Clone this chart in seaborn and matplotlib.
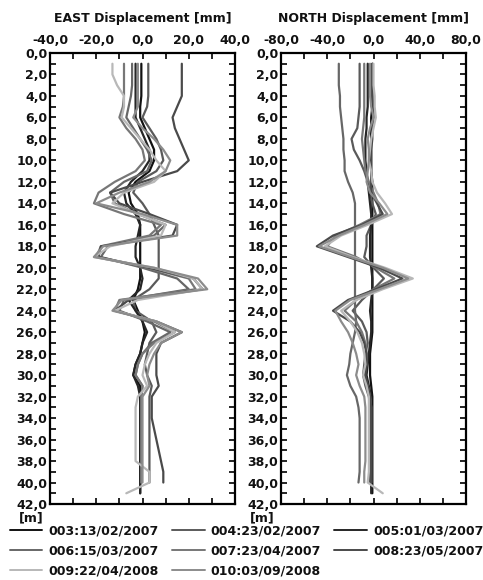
import numpy as np
import pandas as pd
import matplotlib
matplotlib.use("Agg")
import matplotlib.pyplot as plt
from matplotlib.ticker import MultipleLocator, FuncFormatter
import seaborn as sns

nan = np.nan
depth = list(range(1, 42))

series = ["003:13/02/2007", "004:23/02/2007", "005:01/03/2007", "006:15/03/2007",
          "007:23/04/2007", "008:23/05/2007", "009:22/04/2008", "010:03/09/2008"]
colors = ["#111111", "#5a5a5a", "#262626", "#676767", "#777777", "#4a4a4a", "#b8b8b8", "#8c8c8c"]

east_003 = [-0.5, -0.5, -0.5, -0.5, -1, -1, 1, 3, 5, 5,
            3, -3, -6, -5, -2, -1, -1, -1, -1, -1,
            -1, -2, -4, -2, 0, 1, 0, -1, -3, -4,
            -1, -1, -1, -1, -1, -1, -1, -1, -1, -1, -1]
east_004 = [2.5, 2.5, 2.5, 2.5, 2, 0, 3, 6, 8, 9,
            6, -2, -4, 0, 3, 5, 7, 7, 7, 7,
            7, 3, -4, -3, 4, 6, 3, 2, 1, 2,
            4, 3, 3, 3, 3, 3, 3, 3, 3, 3, nan]
east_005 = [-3, -3, -3, -3, -3, -3, -1, 1, 3, 3,
            0, -5, -8, -7, -3, -1, -2, -3, -3, -1,
            0, -1, -6, -3, 0, 2, 0, -1, -3, -4,
            -2, -1, -1, -1, -1, -1, -1, -1, -1, -1, -1]
east_006 = [-4.5, -4.5, -4.5, -5, -6, -7, -4, -1, 2, 4,
            2, -8, -14, -12, -2, 10, 5, -15, -18, 0,
            15, 20, -8, -10, 2, 12, 4, 0, -2, -3,
            0, -0.5, -0.5, -0.5, -0.5, -0.5, -0.5, -0.5, -0.5, -0.5, nan]
east_007 = [-8, -8, -8, -8, -8.5, -10, -7, -3, 0, 1,
            -3, -12, -19, -21, -8, 8, 3, -18, -20, 2,
            20, 23, -10, -12, 5, 14, 5, 0, -2, -3,
            0, -0.5, -0.5, -0.5, -0.5, -0.5, -0.5, -0.5, -0.5, -0.5, nan]
east_008 = [17, 17, 17, 17, 15, 13, 14, 16, 18, 20,
            15, 0, -14, -10, 3, 15, 13, -18, -19, 3,
            22, 26, -6, -12, 6, 17, 8, 6, 6, 6,
            7, 4, 4, 4, 5, 6, 7, 8, 9, 9, nan]
east_009 = [-13, -13, -11, -8, -8, -9, -5, -1, 3, 6,
            10, 5, -8, -13, -2, 10, 8, -14, -21, 5,
            22, 26, -2, -12, 6, 14, 6, 3, 1, 0,
            2, -2, -3, -3, -3, -3, -3, -3, 3, 3, -7]
east_010 = [-2, -2, -2, -2, -2, -4, 0, 5, 9, 12,
            10, 3, -10, -20, 0, 15, 15, -17, -21, 5,
            24, 28, -9, -13, 6, 17, 8, 5, 3, 2,
            3, 0, 0, 0, 0, 0, 0, 0, 0, 0, nan]

north_003 = [-1, -1, -1, -1, -1, -2, -2, -2, -2, -2,
             -2, -1, -1, -1, -1, -1, -1, -1, -1, -1,
             -1, -1, -1, -1, -1, -1, -2, -3, -3, -3,
             -2, -1, -1, -1, -1, -1, -1, -1, -1, -1, -1]
north_004 = [-12, -12, -12, -12, -12, -13, -14, -19, -17, -12,
             -8, -5, -3, -1, 2, -2, -6, -6, -8, 0,
             9, 0, -10, -18, -10, -6, -5, -7, -8, -9,
             -7, -4, -3, -3, -3, -3, -3, -3, -3, -3, nan]
north_005 = [-5, -5, -5, -5, -5, -6, -6, -7, -7, -7,
             -6, -5, -4, -3, -2, -2, -3, -3, -3, -2,
             -1, -1, -2, -3, -2, -2, -3, -4, -5, -6,
             -4, -2, -2, -2, -2, -2, -2, -2, -2, -2, -2]
north_006 = [-30, -30, -30, -29, -29, -28, -27, -26, -26, -25,
             -25, -22, -18, -16, -16, -16, -16, -16, -16, -16,
             -16, -16, -16, -16, -15, -16, -18, -20, -21, -23,
             -20, -15, -13, -12, -12, -12, -12, -12, -12, -13, nan]
north_007 = [-8, -8, -8, -8, -8, -8, -9, -10, -9, -8,
             -7, -4, 0, 4, 6, -12, -33, -40, -15, 2,
             18, 0, -15, -25, -15, -10, -7, -6, -6, -8,
             -5, -3, -2, -2, -2, -2, -2, -2, -2, -2, nan]
north_008 = [-1, -1, -1, -1, 0, 0, -1, -1, -2, -2,
             -2, -2, -2, 3, 8, -10, -35, -49, -22, 5,
             25, 2, -22, -35, -20, -12, -8, -6, -6, -7,
             -5, -3, -2, -2, -2, -2, -2, -2, -2, -2, nan]
north_009 = [0, 0, 0, 1, 1, 2, 0, -2, -3, -4,
             -2, -1, 3, 10, 16, -5, -28, -42, -18, 10,
             34, 8, -15, -28, -20, -14, -10, -8, -7, -9,
             -6, -4, -4, -4, -4, -4, -4, -4, -4, -5, 8]
north_010 = [-3, -3, -3, -3, -2, 0, -3, -5, -4, -4,
             -5, -6, -3, 5, 12, -8, -30, -47, -20, 8,
             30, 5, -20, -33, -28, -22, -18, -15, -13, -15,
             -12, -8, -7, -7, -7, -7, -7, -7, -8, -8, nan]

east = [east_003, east_004, east_005, east_006, east_007, east_008, east_009, east_010]
north = [north_003, north_004, north_005, north_006, north_007, north_008, north_009, north_010]

rows = []
for name, ev, nv in zip(series, east, north):
    for d, e, n in zip(depth, ev, nv):
        rows.append({"series": name, "depth": d, "east": e, "north": n})
df = pd.DataFrame(rows)

sns.set_theme(style="white")
plt.rcParams["font.family"] = ["DejaVu Sans"]
plt.rcParams["font.weight"] = "bold"

fig = plt.figure(figsize=(4.83, 5.80), dpi=100)
axL = fig.add_axes([50/483, 1-504/580, 185/483, 451/580])
axR = fig.add_axes([281/483, 1-504/580, 185/483, 451/580])

palette = dict(zip(series, colors))
fmt = FuncFormatter(lambda v, p: f"{v:.1f}".replace(".", ","))

for ax, col, lim, major, minor, title in [
        (axL, "east", (-40, 40), 20, 10, "EAST Displacement [mm]"),
        (axR, "north", (-80, 80), 40, 20, "NORTH Displacement [mm]")]:
    sub = df.dropna(subset=[col])
    sns.lineplot(data=sub, x=col, y="depth", hue="series", palette=palette,
                 orient="y", estimator=None, sort=True, linewidth=1.6,
                 legend=(ax is axL), ax=ax)
    ax.set_xlim(*lim)
    ax.set_ylim(42, 0)
    ax.xaxis.set_major_locator(MultipleLocator(major))
    ax.xaxis.set_minor_locator(MultipleLocator(minor))
    ax.yaxis.set_major_locator(MultipleLocator(2))
    ax.yaxis.set_minor_locator(MultipleLocator(1))
    ax.xaxis.set_major_formatter(fmt)
    ax.yaxis.set_major_formatter(fmt)
    ax.tick_params(axis="both", which="both", direction="in", top=True, bottom=True,
                   left=True, right=True, labeltop=True, labelbottom=False,
                   length=4, width=1.2, color="black", labelsize=9,
                   labelcolor="#111111")
    ax.tick_params(axis="x", which="major", pad=4.5)
    ax.tick_params(axis="y", which="major", pad=2)
    for s in ax.spines.values():
        s.set_linewidth(1.6)
        s.set_color("black")
    ax.set_xlabel("")
    ax.set_ylabel("")
    ax.set_title(title, fontsize=9, fontweight="bold", pad=22, color="#111111")
    ax.text(-0.035, -0.016, "[m]", transform=ax.transAxes, ha="right", va="top",
            fontsize=9, fontweight="bold", color="#111111")
    for lab in ax.get_xticklabels() + ax.get_yticklabels():
        lab.set_fontweight("bold")

handles, labels = axL.get_legend_handles_labels()
axL.get_legend().remove()
order = [0, 3, 6, 1, 4, 7, 2, 5]
leg = fig.legend([handles[i] for i in order], [labels[i] for i in order],
                 loc="upper left", bbox_to_anchor=(0.005, 0.109), ncol=3,
                 frameon=False, fontsize=9, handlelength=2.6, handletextpad=0.5,
                 columnspacing=1.05, labelspacing=0.55, borderaxespad=0.2)
for t in leg.get_texts():
    t.set_fontweight("bold")
    t.set_color("#111111")
for h in leg.get_lines():
    h.set_linewidth(1.4)

fig.savefig("out.png", dpi=100)
